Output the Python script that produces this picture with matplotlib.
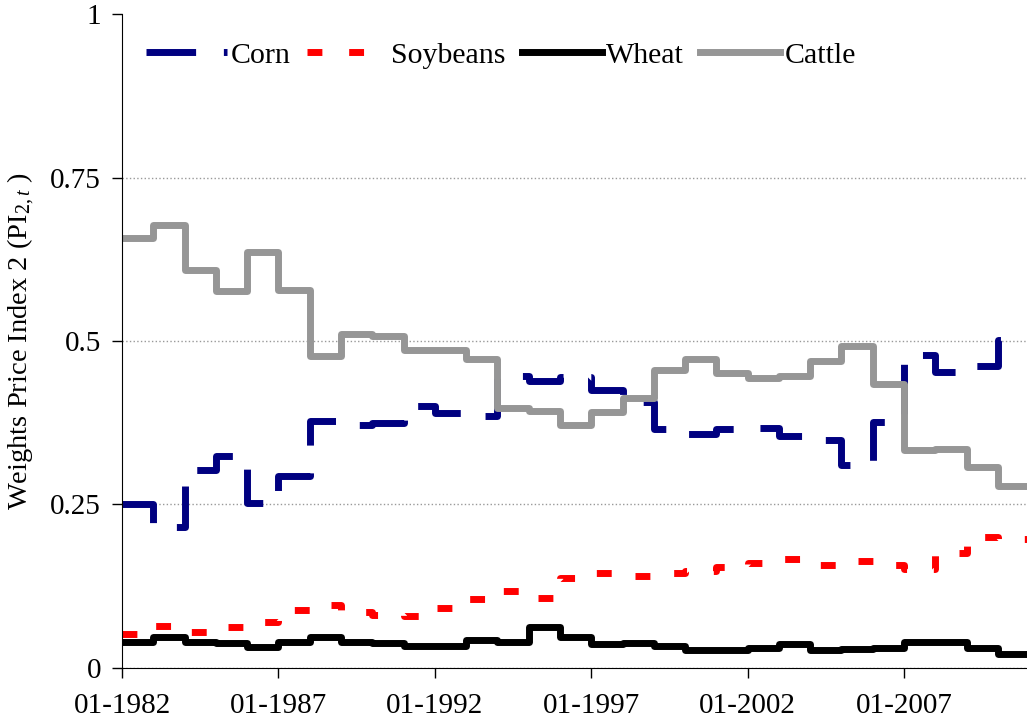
import numpy as np
import matplotlib
matplotlib.use('Agg')
import matplotlib.pyplot as plt

years = np.arange(1982, 2011)

corn = [0.251, 0.215, 0.302, 0.324, 0.253, 0.293, 0.377, 0.372, 0.375, 0.400,
        0.390, 0.385, 0.446, 0.439, 0.445, 0.425, 0.407, 0.366, 0.358, 0.366,
        0.367, 0.354, 0.348, 0.310, 0.376, 0.478, 0.452, 0.462, 0.502]
soybeans = [0.052, 0.064, 0.055, 0.062, 0.070, 0.088, 0.096, 0.085, 0.081, 0.080,
            0.092, 0.105, 0.117, 0.107, 0.138, 0.146, 0.140, 0.146, 0.148, 0.155,
            0.161, 0.167, 0.157, 0.163, 0.158, 0.151, 0.176, 0.200, 0.197]
wheat = [0.040, 0.047, 0.039, 0.038, 0.032, 0.039, 0.048, 0.039, 0.038, 0.034,
         0.033, 0.043, 0.040, 0.063, 0.047, 0.037, 0.038, 0.033, 0.028, 0.027,
         0.030, 0.036, 0.027, 0.029, 0.030, 0.039, 0.040, 0.030, 0.022]
cattle = [0.657, 0.677, 0.609, 0.576, 0.636, 0.578, 0.477, 0.510, 0.508, 0.486,
          0.486, 0.473, 0.397, 0.393, 0.371, 0.391, 0.413, 0.456, 0.472, 0.451,
          0.443, 0.446, 0.470, 0.493, 0.435, 0.333, 0.335, 0.307, 0.278]

xtick_years = [1982, 1987, 1992, 1997, 2002, 2007]
xtick_labels = ['01-1982', '01-1987', '01-1992', '01-1997', '01-2002', '01-2007']
ytick_vals = [0, 0.25, 0.5, 0.75, 1]
ytick_labels = ['0', '0.25', '0.5', '0.75', '1']

plt.rcParams['font.family'] = ['Liberation Serif', 'DejaVu Serif']
plt.rcParams['mathtext.fontset'] = 'custom'
plt.rcParams['mathtext.rm'] = 'Liberation Serif'
plt.rcParams['mathtext.it'] = 'Liberation Serif:italic'


def stepped(vals):
    x = np.append(years, years[-1] + 1)
    y = np.append(vals, vals[-1])
    return x, y


fig = plt.figure(figsize=(10.27, 7.26), dpi=100)
ax = fig.add_axes([0.1188, 0.0799, 0.8812, 0.9008])

lw = 5
series = [
    ('Corn', corn, dict(color='#000080', dashes=(50 / 7, 28 / 7))),
    ('Soybeans', soybeans, dict(color='#ff0000', dashes=(15 / 7, 27 / 7))),
    ('Wheat', wheat, dict(color='black', solid_joinstyle='round')),
    ('Cattle', cattle, dict(color='#969696', solid_joinstyle='round')),
]
for name, vals, style in series:
    x, y = stepped(vals)
    ax.step(x, y, where='post', lw=lw, label=name, **style)

ax.set_xlim(1982, 2010.93)
ax.set_ylim(0, 1)
ax.set_xticks(xtick_years)
ax.set_xticklabels(xtick_labels)
ax.set_yticks(ytick_vals)
ax.set_yticklabels(ytick_labels)
ax.tick_params(labelsize=21, direction='out', length=7, width=1, pad=8)
ax.tick_params(axis='x', pad=11)

for side in ['top', 'right']:
    ax.spines[side].set_visible(False)
ax.yaxis.grid(True, color='#999999', linestyle=':', linewidth=1)
ax.yaxis.get_gridlines()[-1].set_visible(False)
ax.set_axisbelow(True)

ax.set_ylabel('Weights Price Index 2 (PI$_{\\mathrm{2,}t}$ )', fontsize=20.5)
ax.yaxis.set_label_coords(-0.094, 0.5)

ax.legend(loc='upper left', bbox_to_anchor=(0.0, 0.995), ncol=4, frameon=False,
          fontsize=21.5, handlelength=2.68, handletextpad=0.15, columnspacing=0.53,
          borderaxespad=0.42)

fig.savefig('out.png', dpi=100)
